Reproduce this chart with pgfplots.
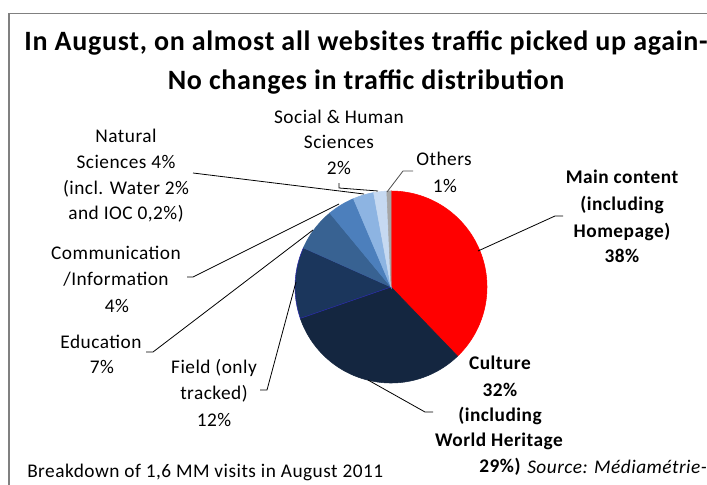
\documentclass[border=0pt]{standalone}
\usepackage{fontspec}
\setmainfont{Carlito}[LetterSpace=2.5]
\usepackage{pgfplots}
\usepackage{pgfplotstable}
\pgfplotsset{compat=1.18}

\pgfplotstableread{
label value
Main 37.8
Culture 31.9
Field 12.0
Education 7.3
Communication 4.6
Natural 3.5
Social 2.2
Others 0.7
}\piedata

\definecolor{c0}{RGB}{255,0,0}
\definecolor{c1}{RGB}{20,38,64}
\definecolor{c2}{RGB}{27,54,92}
\definecolor{c3}{RGB}{56,98,146}
\definecolor{c4}{RGB}{76,127,188}
\definecolor{c5}{RGB}{141,180,226}
\definecolor{c6}{RGB}{198,217,241}
\definecolor{c7}{RGB}{166,166,166}
\definecolor{d0}{RGB}{255,0,0}
\definecolor{d1}{RGB}{20,38,64}
\definecolor{d2}{RGB}{40,40,170}
\definecolor{d3}{RGB}{56,98,146}
\definecolor{d4}{RGB}{76,127,188}
\definecolor{d5}{RGB}{141,180,226}
\definecolor{d6}{RGB}{198,217,241}
\definecolor{d7}{RGB}{166,166,166}

\newcommand\rf{\fontsize{14.5}{17}\selectfont}
\newcommand\bfnt{\fontsize{14.5}{17}\selectfont\bfseries}

\begin{document}
\begin{tikzpicture}
\def\cum{0}
\pgfplotsforeachungrouped \i in {0,...,7}{%
  \pgfplotstablegetelem{\i}{value}\of\piedata
  \pgfmathsetmacro\a{90-3.6*\cum}%
  \pgfmathsetmacro\cum{\cum+\pgfplotsretval}%
  \pgfmathsetmacro\b{90-3.6*\cum}%
  \expandafter\xdef\csname sA\i\endcsname{\a}%
  \expandafter\xdef\csname sB\i\endcsname{\b}%
}
\begin{axis}[
  x=0.75pt, y=0.75pt, y dir=reverse,
  xmin=0, xmax=707, ymin=0, ymax=485,
  hide axis, clip=false, scale only axis,
]
% frame
\addplot[draw=gray, line width=0.8pt] coordinates {(9,490) (9,13.3) (712,13.3)};

% pie slices
\pgfplotsinvokeforeach{0,...,7}{
  \addplot[draw=d#1, line width=0.4pt, fill=c#1, domain={\csname sB#1\endcsname}:{\csname sA#1\endcsname}, samples=80]
    ({391+96*cos(x)},{287-96*sin(x)}) -- (axis cs:391,287) -- cycle;
}

% leader lines
\addplot[black, line width=0.6pt] coordinates {(478,251) (555,216) (563,216)};
\addplot[black, line width=0.6pt] coordinates {(368,380) (425,412) (433,412)};
\addplot[black, line width=0.6pt] coordinates {(296,282) (267,390) (260,390)};
\addplot[black, line width=0.6pt] coordinates {(313,230) (153,352) (146,352)};
\addplot[black, line width=0.6pt] coordinates {(339,204) (193,277) (187,277)};
\addplot[black, line width=0.6pt] coordinates {(193,173) (364,194)};
\addplot[black, line width=0.6pt] coordinates {(339,183) (339,188) (378,191)};
\addplot[black!70, line width=0.6pt] coordinates {(387,192) (403,171) (413,171)};

% title
\node[anchor=base, font=\fontsize{21}{24}\selectfont\bfseries] at (axis cs:366,50) {In August, on almost all websites traffic picked up again-};
\node[anchor=base, font=\fontsize{21}{24}\selectfont\bfseries] at (axis cs:366,89.5) {No changes in traffic distribution};

% Social
\node[anchor=base, font=\rf] at (axis cs:339,123) {Social \& Human};
\node[anchor=base, font=\rf] at (axis cs:339,148) {Sciences};
\node[anchor=base, font=\rf] at (axis cs:339,174) {2\%};
% Others
\node[anchor=base, font=\rf] at (axis cs:444,165) {Others};
\node[anchor=base, font=\rf] at (axis cs:445,192) {1\%};
% Main
\node[anchor=base, font=\bfnt] at (axis cs:622,183) {Main content};
\node[anchor=base, font=\bfnt] at (axis cs:622,210) {(including};
\node[anchor=base, font=\bfnt] at (axis cs:622,237) {Homepage)};
\node[anchor=base, font=\bfnt] at (axis cs:622,262) {38\%};
% Natural
\node[anchor=base, font=\rf] at (axis cs:126,142) {Natural};
\node[anchor=base, font=\rf] at (axis cs:126,168) {Sciences 4\%};
\node[anchor=base, font=\rf] at (axis cs:126,194) {(incl. Water 2\%};
\node[anchor=base, font=\rf] at (axis cs:126,219) {and IOC 0,2\%)};
% Communication
\node[anchor=base, font=\rf] at (axis cs:116,259) {Communication};
\node[anchor=base, font=\rf] at (axis cs:116,285) {/Information};
\node[anchor=base, font=\rf] at (axis cs:117,312) {4\%};
% Education
\node[anchor=base, font=\rf] at (axis cs:101,348) {Education};
\node[anchor=base, font=\rf] at (axis cs:102,373) {7\%};
% Field
\node[anchor=base, font=\rf] at (axis cs:214,373) {Field (only};
\node[anchor=base, font=\rf] at (axis cs:214,399) {tracked)};
\node[anchor=base, font=\rf] at (axis cs:214,426) {12\%};
% Culture
\node[anchor=base, font=\bfnt] at (axis cs:500,369) {Culture};
\node[anchor=base, font=\bfnt] at (axis cs:500,396) {32\%};
\node[anchor=base, font=\bfnt] at (axis cs:500,421) {(including};
\node[anchor=base, font=\bfnt] at (axis cs:499,446) {World Heritage};
\node[anchor=base, font=\bfnt] at (axis cs:500,472) {29\%)};
% bottom texts
\node[anchor=base west, font=\rf\itshape, inner sep=0pt] at (axis cs:527,473) {Source: Médiamétrie-};
\node[anchor=base west, font=\rf, inner sep=0pt] at (axis cs:27,477) {Breakdown of 1,6 MM visits in August 2011};
\end{axis}
\pgfresetboundingbox
\path[use as bounding box] (current axis.south west) rectangle (current axis.north east);
\end{tikzpicture}
\end{document}
